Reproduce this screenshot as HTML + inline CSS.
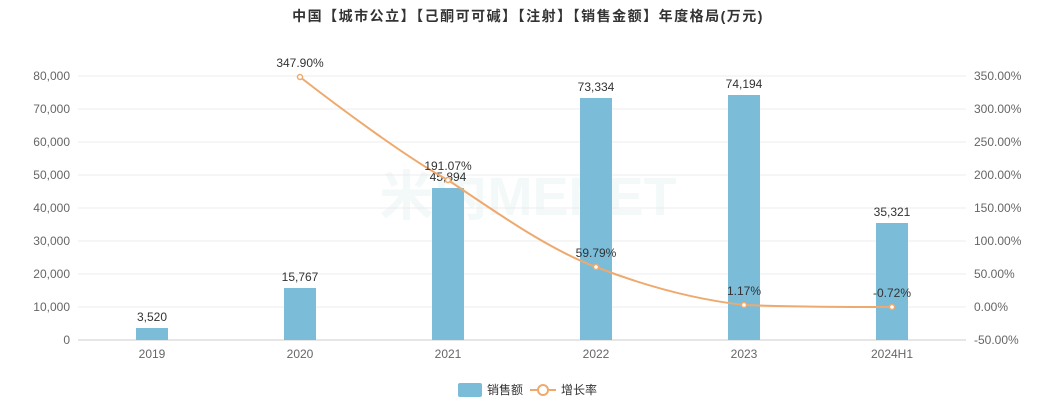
<!DOCTYPE html>
<html><head><meta charset="utf-8"><style>
body{margin:0;background:#fff;}
svg text{font-family:"Liberation Sans","Noto Sans CJK SC",sans-serif;}
</style></head><body>
<svg width="1056" height="400" viewBox="0 0 1056 400" xmlns="http://www.w3.org/2000/svg">
<rect width="1056" height="400" fill="#fff"/>
<text x="528" y="21" text-anchor="middle" font-size="14" font-weight="bold" fill="#333" letter-spacing="1.5">中国【城市公立】【己酮可可碱】【注射】【销售金额】年度格局(万元)</text>
<text x="528" y="215" text-anchor="middle" font-size="54" font-weight="bold" fill="#eef6f7" opacity="0.7">米内MENET</text>
<g stroke="#ececec" stroke-width="1">
<line x1="78" x2="966" y1="76" y2="76"/><line x1="78" x2="966" y1="109" y2="109"/>
<line x1="78" x2="966" y1="142" y2="142"/><line x1="78" x2="966" y1="175" y2="175"/>
<line x1="78" x2="966" y1="208" y2="208"/><line x1="78" x2="966" y1="241" y2="241"/>
<line x1="78" x2="966" y1="274" y2="274"/><line x1="78" x2="966" y1="307" y2="307"/>
</g>
<line x1="78" x2="966" y1="340" y2="340" stroke="#ccc"/>
<g font-size="12" fill="#666" text-anchor="end">
<text x="70" y="80">80,000</text><text x="70" y="113">70,000</text><text x="70" y="146">60,000</text>
<text x="70" y="179">50,000</text><text x="70" y="212">40,000</text><text x="70" y="245">30,000</text>
<text x="70" y="278">20,000</text><text x="70" y="311">10,000</text><text x="70" y="344">0</text>
</g>
<g font-size="12" fill="#666" text-anchor="start">
<text x="974" y="80">350.00%</text><text x="974" y="113">300.00%</text><text x="974" y="146">250.00%</text>
<text x="974" y="179">200.00%</text><text x="974" y="212">150.00%</text><text x="974" y="245">100.00%</text>
<text x="974" y="278">50.00%</text><text x="974" y="311">0.00%</text><text x="974" y="344">-50.00%</text>
</g>
<g font-size="12" fill="#666" text-anchor="middle">
<text x="152" y="358">2019</text><text x="300" y="358">2020</text><text x="448" y="358">2021</text>
<text x="596" y="358">2022</text><text x="744" y="358">2023</text><text x="892" y="358">2024H1</text>
</g>
<g fill="#7bbcd9">
<rect x="136" y="328" width="32" height="12"/>
<rect x="284" y="288" width="32" height="52"/>
<rect x="432" y="188" width="32" height="152"/>
<rect x="580" y="98" width="32" height="242"/>
<rect x="728" y="95" width="32" height="245"/>
<rect x="876" y="223" width="32" height="117"/>
</g>
<g font-size="12" fill="#333" text-anchor="middle">
<text x="152" y="321">3,520</text><text x="300" y="281">15,767</text><text x="448" y="181">45,894</text>
<text x="596" y="91">73,334</text><text x="744" y="88">74,194</text><text x="892" y="216">35,321</text>
</g>
<path d="M300,77 C340,108 410,160 448,180 C500,215 550,250 596,267 C650,288 700,300 744,305 C800,307 850,307 892,307" fill="none" stroke="#eeaa6e" stroke-width="2"/>
<g fill="#fff" stroke="#eeaa6e" stroke-width="1.5">
<circle cx="300" cy="77" r="2.5"/><circle cx="448" cy="180" r="2.5"/><circle cx="596" cy="267" r="2.5"/>
<circle cx="744" cy="305" r="2.5"/><circle cx="892" cy="307" r="2.5"/>
</g>
<g font-size="12" fill="#333" text-anchor="middle">
<text x="300" y="67">347.90%</text><text x="448" y="170">191.07%</text><text x="596" y="257">59.79%</text>
<text x="744" y="295">1.17%</text><text x="892" y="297">-0.72%</text>
</g>
<rect x="458" y="383" width="24" height="14" rx="2" fill="#7bbcd9"/>
<text x="487" y="394" font-size="12" fill="#333">销售额</text>
<line x1="530" x2="556" y1="390" y2="390" stroke="#eeaa6e" stroke-width="2"/>
<circle cx="543" cy="390" r="5" fill="#fff" stroke="#eeaa6e" stroke-width="2"/>
<text x="561" y="394" font-size="12" fill="#333">增长率</text>
</svg>
</body></html>
